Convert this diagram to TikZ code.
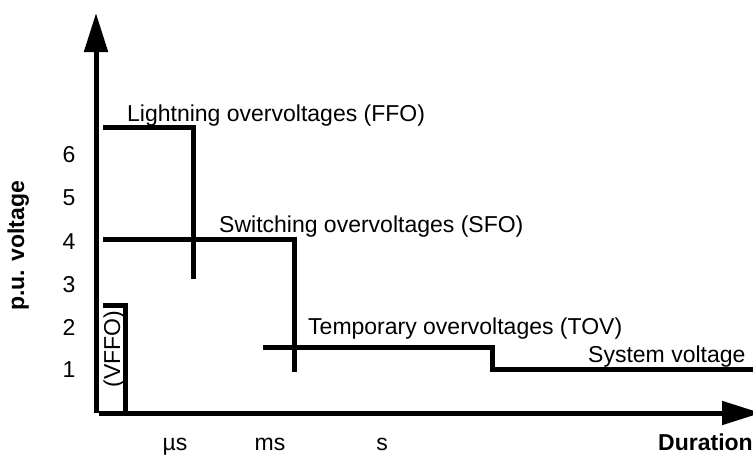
\documentclass[tikz,border=0pt]{standalone}
\usepackage{fontspec}
\setmainfont{Liberation Sans}
\usetikzlibrary{arrows.meta}
\begin{document}
\begin{tikzpicture}[x=1pt,y=-1pt,
  lvl/.style={line width=5pt, line join=miter},
  axis/.style={line width=5pt, -{Triangle[length=39pt,width=23pt]}},
  lbl/.style={inner sep=0pt, font=\fontsize{23}{27}\selectfont},
  blbl/.style={inner sep=0pt, font=\fontsize{23}{27}\selectfont\bfseries}]
\useasboundingbox[fill=white] (0,0) rectangle (753,455);
% axes
\coordinate (o) at (96,413);
\coordinate (ytop) at (96,13);
\coordinate (xstart) at (99,413);
\coordinate (xend) at (761,413);
\draw[axis] (o) -- (ytop);
\draw[axis] (xstart) -- (xend);
% VFFO
\coordinate (v1) at (103,305);
\coordinate (v2) at (125,305);
\coordinate (v3) at (125,413);
\draw[lvl] (v1) -- (v2) -- (v3);
% Lightning
\coordinate (l1) at (103,127);
\coordinate (l2) at (193,127);
\coordinate (l3) at (193,279);
\draw[lvl] (l1) -- (l2) -- (l3);
% Switching
\coordinate (s1) at (103,239);
\coordinate (s2) at (294,239);
\coordinate (s3) at (294,372);
\draw[lvl] (s1) -- (s2) -- (s3);
% Temporary + system
\coordinate (t1) at (263,347);
\coordinate (t2) at (492,347);
\coordinate (t3) at (492,369);
\coordinate (t4) at (753,369);
\draw[lvl] (t1) -- (t2) -- (t3) -- (t4);
% labels
\node[lbl, anchor=base west] (lfo) at (127,121) {Lightning overvoltages (FFO)};
\node[lbl, anchor=base west] (lso) at (219,232) {Switching overvoltages (SFO)};
\node[lbl, anchor=base west] (lto) at (308,334) {Temporary overvoltages (TOV)};
\node[lbl, anchor=base west] (lsv) at (588,362) {System voltage};
\node[lbl, anchor=base, rotate=90] (lvf) at (120,349) {(VFFO)};
\node[blbl, anchor=base, rotate=90] (lpu) at (24,246) {p.u. voltage};
% ticks
\node[lbl, anchor=base] (n6) at (69,162) {6};
\node[lbl, anchor=base] (n5) at (69,205) {5};
\node[lbl, anchor=base] (n4) at (69,249) {4};
\node[lbl, anchor=base] (n3) at (69,292) {3};
\node[lbl, anchor=base] (n2) at (69,335) {2};
\node[lbl, anchor=base] (n1) at (69,377) {1};
\node[lbl, anchor=base] (us) at (175,450) {µs};
\node[lbl, anchor=base] (ms) at (270,450) {ms};
\node[lbl, anchor=base] (sec) at (382,450) {s};
\node[blbl, anchor=base west] (dur) at (658,450) {Duration};
\end{tikzpicture}
\end{document}
